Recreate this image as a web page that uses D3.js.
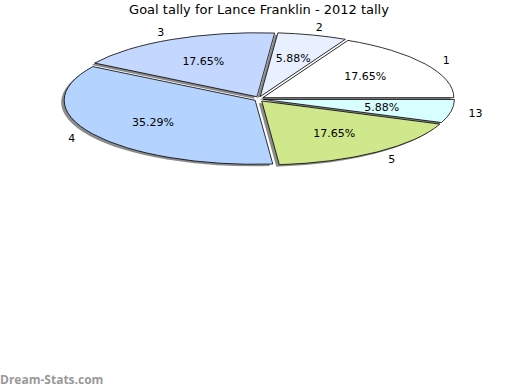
<!DOCTYPE html>
<html>
<head>
<meta charset="utf-8">
<script src="https://cdn.jsdelivr.net/npm/d3@7"></script>
<style>
  body { margin: 0; background: #fff; }
  text { font-family: "DejaVu Sans", sans-serif; }
</style>
</head>
<body>
<div id="chart"></div>
<script>
// goals per round (2012)
const labels = ["1", "2", "3", "4", "5", "13"];
const goals = [3, 1, 3, 6, 3, 1];
const colors = ["#ffffff", "#e8f0ff", "#c4d8ff", "#b4d4ff", "#d0e88c", "#d8ffff"];

const width = 520, height = 390;
const cx = 259, cy = 99;
const rx = 191, ry = 64;

const svg = d3.select("#chart")
  .append("svg")
  .attr("width", width)
  .attr("height", height);

svg.append("text")
  .attr("x", 259)
  .attr("y", 14)
  .attr("text-anchor", "middle")
  .style("font-size", "13px")
  .text("Goal tally for Lance Franklin - 2012 tally");

// angles go counter-clockwise from 3 o'clock
const pie = d3.pie().sort(null).value(d => d)
  .startAngle(0).endAngle(2 * Math.PI);
const arcs = pie(goals);
const total = d3.sum(goals);

function pt(a, k, ox, oy) {
  return [ox + k * rx * Math.cos(a), oy - k * ry * Math.sin(a)];
}

function offset(d) {
  const mid = (d.startAngle + d.endAngle) / 2;
  return [cx + 4.5 * Math.cos(mid), cy - 2.5 * Math.sin(mid)];
}

function slicePath(d, dx, dy) {
  const [ox, oy] = offset(d);
  const p0 = pt(d.startAngle, 1, ox + dx, oy + dy);
  const p1 = pt(d.endAngle, 1, ox + dx, oy + dy);
  const large = d.endAngle - d.startAngle > Math.PI ? 1 : 0;
  return `M${ox + dx},${oy + dy}L${p0[0]},${p0[1]}A${rx},${ry} 0 ${large} 0 ${p1[0]},${p1[1]}Z`;
}

// shadows
svg.append("g").selectAll("path")
  .data(arcs)
  .enter().append("path")
  .attr("d", d => slicePath(d, -3, 2))
  .attr("fill", "#8c8c8c");

svg.append("g").selectAll("path")
  .data(arcs)
  .enter().append("path")
  .attr("d", d => slicePath(d, 0, 0))
  .attr("fill", (d, i) => colors[i])
  .attr("stroke", "#000")
  .attr("stroke-width", 0.8);

// outer labels
svg.append("g").selectAll("text")
  .data(arcs)
  .enter().append("text")
  .attr("x", d => pt((d.startAngle + d.endAngle) / 2, 1.13, ...offset(d))[0])
  .attr("y", d => pt((d.startAngle + d.endAngle) / 2, 1.13, ...offset(d))[1] + 4)
  .attr("text-anchor", "middle")
  .style("font-size", "11px")
  .text((d, i) => labels[i]);

// percentages
svg.append("g").selectAll("text")
  .data(arcs)
  .enter().append("text")
  .attr("x", d => pt((d.startAngle + d.endAngle) / 2, 0.63, ...offset(d))[0])
  .attr("y", d => pt((d.startAngle + d.endAngle) / 2, 0.63, ...offset(d))[1] + 4)
  .attr("text-anchor", "middle")
  .style("font-size", "11px")
  .text(d => (d.value / total * 100).toFixed(2) + "%");

svg.append("text")
  .attr("x", 0)
  .attr("y", 384)
  .attr("fill", "#999")
  .style("font-size", "12px")
  .style("font-weight", "bold")
  .style("font-family", "'Open Sans', sans-serif")
  .text("Dream-Stats.com");
</script>
</body>
</html>
